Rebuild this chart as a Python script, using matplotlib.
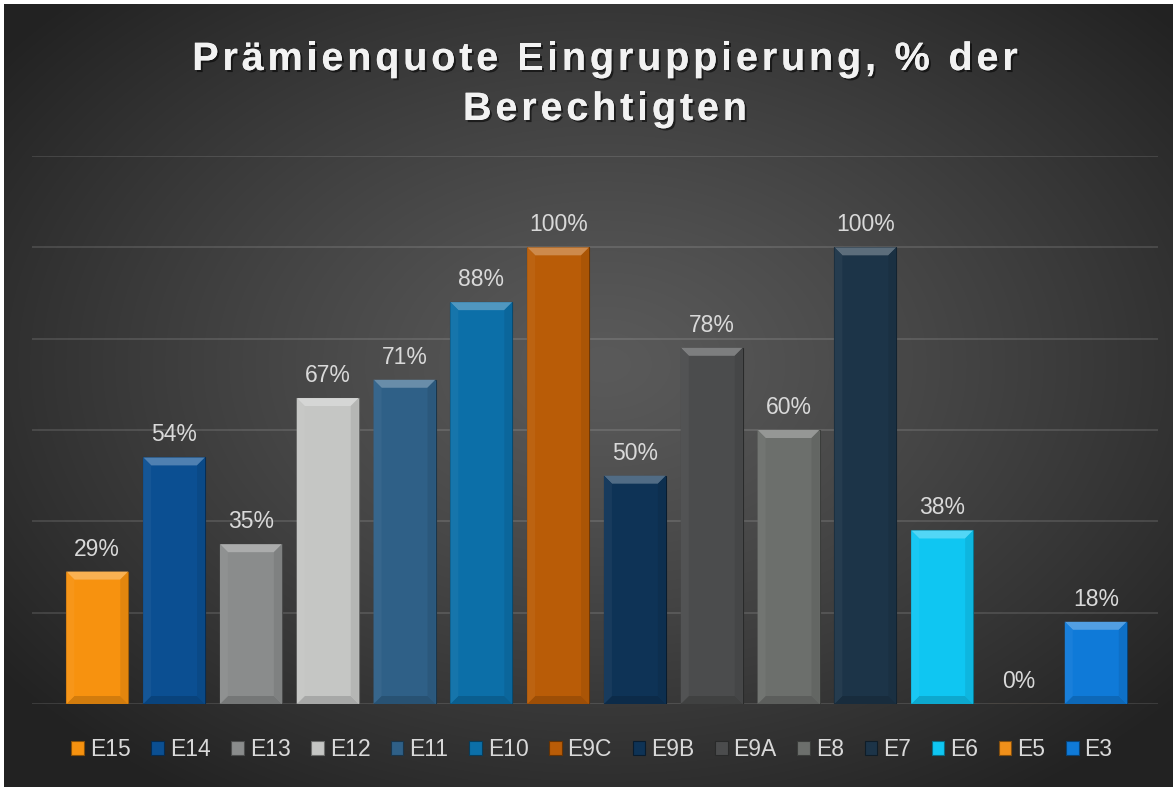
import matplotlib
matplotlib.use('Agg')
import matplotlib.pyplot as plt
import matplotlib.patheffects as pe
from matplotlib.patches import Polygon, Patch
from matplotlib.colors import to_rgb
from matplotlib.font_manager import findfont, FontProperties
from matplotlib.ft2font import FT2Font
import numpy as np

# data
groups = ['E15', 'E14', 'E13', 'E12', 'E11', 'E10', 'E9C', 'E9B', 'E9A', 'E8', 'E7', 'E6', 'E5', 'E3']
quote = [29, 54, 35, 67, 71, 88, 100, 50, 78, 60, 100, 38, 0, 18]
bar_colors = ['#f7920f', '#0b4f92', '#8a8c8c', '#c5c6c4', '#2f6087', '#0c6fa8', '#b95c07',
              '#0e3356', '#4b4c4d', '#6c6f6c', '#1c3448', '#0fc6f2', '#f0901a', '#0f7ad8']
title_lines = ['Prämienquote Eingruppierung, % der', 'Berechtigten']

W, H, DPI = 1173, 787, 100
plt.rcParams['font.family'] = ['Liberation Sans', 'DejaVu Sans']


def mix(c, other, t):
    c = np.array(to_rgb(c))
    o = np.array(to_rgb(other))
    return tuple(c * (1 - t) + o * t)


fig = plt.figure(figsize=(W / DPI, H / DPI), dpi=DPI, facecolor='white')

# radial background
bg = fig.add_axes([4 / W, 0, (W - 4) / W, (H - 4) / H])
yy, xx = np.mgrid[0:H - 4, 0:W - 4]
r = np.sqrt(((xx - 600) / 760) ** 2 + ((yy - 360) / 520) ** 2)
r = np.clip(r, 0, 1) ** 1.2
shade = (0x5a - (0x5a - 0x22) * r) / 255
bg.imshow(np.dstack([shade, shade, shade]), aspect='auto', interpolation='bilinear')
bg.set_axis_off()

# plot area
left, bottom, top = 32, 704, 156
ax = fig.add_axes([left / W, (H - bottom) / H, 1126 / W, (bottom - top) / H])
ax.set_facecolor('none')
x = np.arange(len(groups))
bw = 0.807
bars = ax.bar(x, quote, width=bw, color=bar_colors,
              edgecolor=[mix(c, 'black', 0.45) for c in bar_colors], linewidth=0.8, zorder=3)
ax.set_xlim(-0.85, 13.81)
ax.set_ylim(0, 120)
ax.set_yticks(np.arange(0, 121, 20))
ax.grid(axis='y', color='white', alpha=0.13, linewidth=1.3, zorder=0)
ax.set_xticks([])
ax.tick_params(left=False, labelleft=False)
for s in ax.spines.values():
    s.set_visible(False)

# bevel on each bar
dx = 8 / 1126 * (13.81 + 0.85)
dy = 8 / (bottom - top) * 120
for b, c in zip(bars, bar_colors):
    h = b.get_height()
    if h <= 0:
        continue
    x0, w = b.get_x(), b.get_width()
    e = min(dy, h / 2)
    ax.add_patch(Polygon([(x0, h), (x0 + w, h), (x0 + w - dx, h - e), (x0 + dx, h - e)],
                         closed=True, facecolor=mix(c, 'white', 0.28), edgecolor='none', zorder=4))
    ax.add_patch(Polygon([(x0, 0), (x0 + w, 0), (x0 + w - dx, e), (x0 + dx, e)],
                         closed=True, facecolor=mix(c, 'black', 0.15), edgecolor='none', zorder=4))
    ax.add_patch(Polygon([(x0, 0), (x0 + dx, e), (x0 + dx, h - e), (x0, h)],
                         closed=True, facecolor=mix(c, 'white', 0.04), edgecolor='none', zorder=4))
    ax.add_patch(Polygon([(x0 + w, 0), (x0 + w - dx, e), (x0 + w - dx, h - e), (x0 + w, h)],
                         closed=True, facecolor=mix(c, 'black', 0.08), edgecolor='none', zorder=4))

for xi, v in zip(x, quote):
    ax.annotate(f'{v}%', (xi, v), xytext=(0, 11.5), textcoords='offset points',
                ha='center', va='baseline', fontsize=16.5, color='#d9d9d9', zorder=5)

# legend
handles = [Patch(facecolor=c, edgecolor=mix(c, 'black', 0.45), linewidth=0.8) for c in bar_colors]
leg = fig.legend(handles, groups, loc='center', bbox_to_anchor=(592 / W, 1 - 750 / H),
                 ncol=len(groups), frameon=False, fontsize=16.5, handlelength=0.55,
                 handleheight=0.55, handletextpad=0.26, columnspacing=0.9, borderpad=0)
for t in leg.get_texts():
    t.set_color('#d9d9d9')

# title with letter spacing
tprop = FontProperties(family='Liberation Sans', weight='bold')
ft = FT2Font(findfont(tprop))
tsize = 28.5
ft.set_size(tsize, DPI)
spacing = 3.8
shadow = [pe.withSimplePatchShadow(offset=(1.5, -1.5), shadow_rgbFace='black', alpha=0.55),
          pe.Normal()]
for line, base in zip(title_lines, [70, 120]):
    adv = [ft.load_char(ord(ch)).linearHoriAdvance / 65536 for ch in line]
    total = sum(adv) + spacing * (len(line) - 1)
    cx = 605 - total / 2
    for ch, a in zip(line, adv):
        if ch != ' ':
            fig.text(cx / W, 1 - base / H, ch, fontproperties=tprop, fontsize=tsize,
                     color='#f2f2f2', ha='left', va='baseline', path_effects=shadow)
        cx += a + spacing

fig.savefig('out.png', dpi=DPI, facecolor=fig.get_facecolor())
